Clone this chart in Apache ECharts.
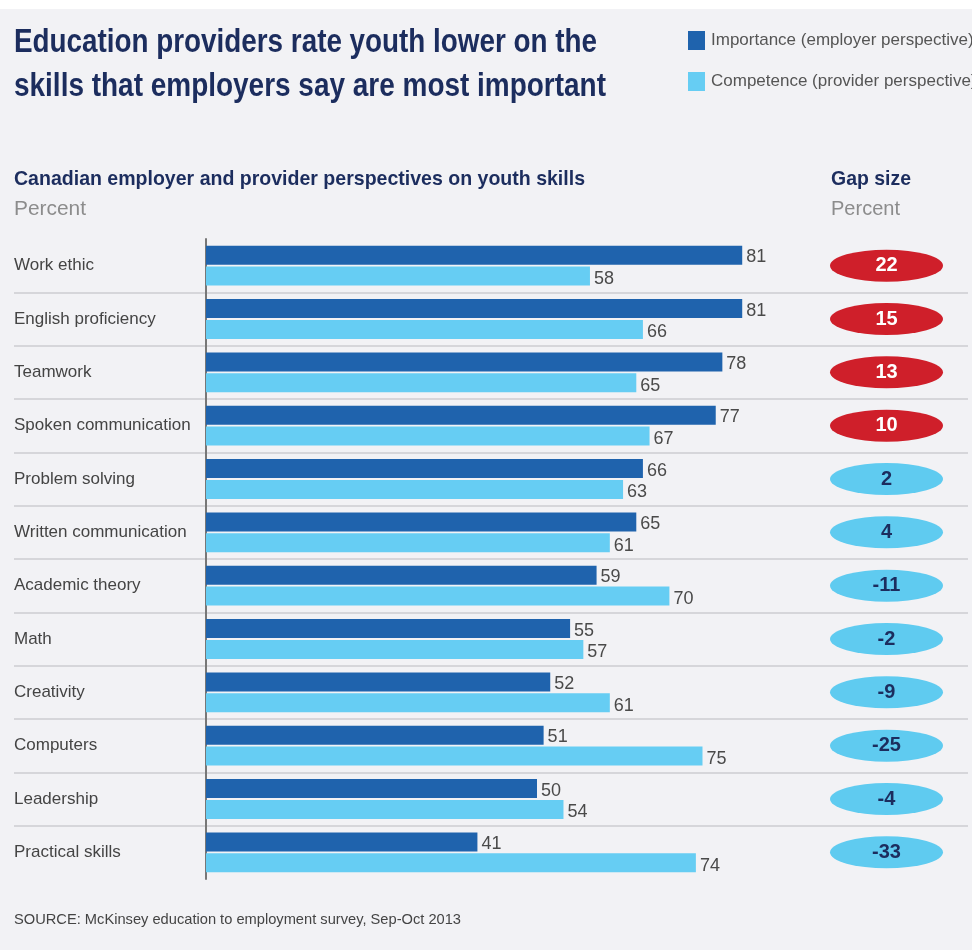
<!DOCTYPE html>
<html>
<head>
<meta charset="utf-8">
<style>
  html, body { margin: 0; padding: 0; background: #fff; }
  #chart { width: 972px; height: 950px; }
</style>
<script src="https://cdn.jsdelivr.net/npm/echarts@6/dist/echarts.min.js"></script>
</head>
<body>
<div id="chart"></div>
<script>
// skills, top to bottom
const skills = [
  'Work ethic', 'English proficiency', 'Teamwork', 'Spoken communication',
  'Problem solving', 'Written communication', 'Academic theory', 'Math',
  'Creativity', 'Computers', 'Leadership', 'Practical skills'
]
const importance = [81, 81, 78, 77, 66, 65, 59, 55, 52, 51, 50, 41]
const competence = [58, 66, 65, 67, 63, 61, 70, 57, 61, 75, 54, 74]
const gapSize = [22, 15, 13, 10, 2, 4, -11, -2, -9, -25, -4, -33]

const FONT = "'Liberation Sans', Arial, sans-serif"
const NAVY = '#1c2d5e'
const GREY_TEXT = '#8c8c8c'
const DARK_BLUE = '#1f63ad'
const LIGHT_BLUE = '#66cdf3'
const GAP_RED = '#cf1f2a'
const GAP_BLUE = '#5fcbf0'

const gridTop = 239
const gridBottom = 71

// the original uses a condensed face; squeeze the free text horizontally to the same width
const measureCtx = document.createElement('canvas').getContext('2d')
function squeeze(text, size, weight, width) {
  measureCtx.font = weight + ' ' + size + 'px ' + FONT
  return width / measureCtx.measureText(text).width
}

function label(text, x, y, size, weight, color, width) {
  return {
    type: 'text', x: x, y: y, silent: true,
    scaleX: squeeze(text, size, weight, width),
    style: {
      text: text, fill: color, fontFamily: FONT, fontSize: size, fontWeight: weight,
      align: 'left', verticalAlign: 'middle'
    }
  }
}

const titleLine1 = 'Education providers rate youth lower on the'
const titleLine2 = 'skills that employers say are most important'

const chart = echarts.init(document.getElementById('chart'))

chart.setOption({
  backgroundColor: '#f2f2f5',
  textStyle: { fontFamily: FONT },
  graphic: [
    { type: 'rect', shape: { x: 0, y: 0, width: 972, height: 9 }, style: { fill: '#fff' }, silent: true },
    label(titleLine1, 14, 43, 33, 'bold', NAVY, 583),
    label(titleLine2, 14, 87, 33, 'bold', NAVY, 592),
    label('Canadian employer and provider perspectives on youth skills', 14, 179, 21, 'bold', NAVY, 571),
    label('Percent', 14, 209, 21, 'normal', GREY_TEXT, 72),
    label('Gap size', 831, 179, 21, 'bold', NAVY, 80),
    label('Percent', 831, 209, 21, 'normal', GREY_TEXT, 69),
    label('SOURCE: McKinsey education to employment survey, Sep-Oct 2013', 14, 920, 15, 'normal', '#444', 447)
  ],
  legend: {
    orient: 'vertical',
    left: 683, top: 26,
    itemWidth: 17, itemHeight: 19, itemGap: 22,
    icon: 'rect',
    data: ['Importance (employer perspective)', 'Competence (provider perspective)'],
    textStyle: { fontFamily: FONT, fontSize: 17, color: '#555', padding: [0, 0, 0, 1] }
  },
  grid: [
    { left: 206, right: 104, top: gridTop, bottom: gridBottom },
    { left: 830, right: 29, top: gridTop, bottom: gridBottom },
    { left: 14, right: 4, top: gridTop, bottom: gridBottom }
  ],
  xAxis: [
    { gridIndex: 0, type: 'value', min: 0, max: 100, show: false },
    { gridIndex: 1, type: 'category', data: ['gap'], show: false },
    { gridIndex: 2, type: 'value', min: 0, max: 1, show: false }
  ],
  yAxis: [
    {
      gridIndex: 0, type: 'category', data: skills, inverse: true,
      axisLine: { show: true, lineStyle: { color: '#777', width: 2 } },
      axisTick: { show: false },
      splitLine: { show: false },
      axisLabel: {
        align: 'left', margin: 192, fontFamily: FONT, fontSize: 17, color: '#444'
      }
    },
    {
      gridIndex: 1, type: 'category', data: skills, inverse: true, show: false
    },
    {
      gridIndex: 2, type: 'category', data: skills, inverse: true,
      axisLine: { show: false }, axisTick: { show: false }, axisLabel: { show: false },
      splitLine: { show: true, showMinLine: false, showMaxLine: false, lineStyle: { color: '#d6d6da', width: 2 } }
    }
  ],
  series: [
    {
      name: 'Importance (employer perspective)',
      type: 'bar', xAxisIndex: 0, yAxisIndex: 0, z: 3,
      data: importance,
      barWidth: 19, barGap: '10%',
      itemStyle: { color: DARK_BLUE },
      label: {
        show: true, position: 'right', distance: 4, offset: [0, 2],
        fontFamily: FONT, fontSize: 18, color: '#4a4a4a'
      }
    },
    {
      name: 'Competence (provider perspective)',
      type: 'bar', xAxisIndex: 0, yAxisIndex: 0, z: 3,
      data: competence,
      barWidth: 19, barGap: '10%',
      itemStyle: { color: LIGHT_BLUE },
      label: {
        show: true, position: 'right', distance: 4, offset: [0, 3],
        fontFamily: FONT, fontSize: 18, color: '#4a4a4a'
      }
    },
    {
      name: 'Gap size',
      type: 'scatter', xAxisIndex: 1, yAxisIndex: 1, z: 3,
      symbol: 'circle',
      symbolSize: [113, 32],
      data: gapSize.map((g, i) => ({
        value: ['gap', skills[i]],
        gap: g,
        itemStyle: { color: g > 5 ? GAP_RED : GAP_BLUE, opacity: 1 },
        label: { color: g > 5 ? '#fff' : NAVY }
      })),
      label: {
        show: true, position: 'inside',
        fontFamily: FONT, fontSize: 20, fontWeight: 'bold',
        formatter: p => String(p.data.gap)
      }
    },
    {
      // empty series so the separator grid gets drawn
      type: 'bar', xAxisIndex: 2, yAxisIndex: 2, z: 1,
      data: skills.map(() => 0), silent: true,
      itemStyle: { color: 'transparent' }
    }
  ]
})
</script>
</body>
</html>
